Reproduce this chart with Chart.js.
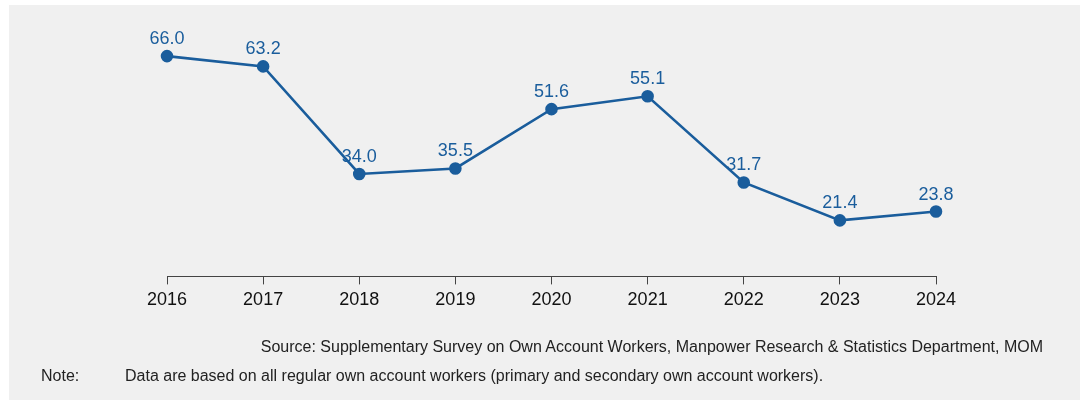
<!DOCTYPE html>
<html>
<head>
<meta charset="utf-8">
<script src="https://cdn.jsdelivr.net/npm/chart.js@4/dist/chart.umd.min.js"></script>
<style>
  body { margin: 0; background: #fff; font-family: "Liberation Sans", Arial, sans-serif; }
  #panel { position: absolute; left: 9px; top: 5px; width: 1071px; height: 395px; background: #f0f0f0; }
  #wrap { position: absolute; left: 0; top: 0; width: 1080px; height: 400px; }
  .src { position: absolute; right: 37px; top: 338px; font-size: 16px; color: #222; }
  .note { position: absolute; top: 367px; font-size: 16px; color: #222; }
</style>
</head>
<body>
<div id="panel"></div>
<div id="wrap"><canvas id="myChart" width="1080" height="400"></canvas></div>
<div class="src">Source: Supplementary Survey on Own Account Workers, Manpower Research &amp; Statistics Department, MOM</div>
<div class="note" style="left:41px">Note:</div>
<div class="note" style="left:125px">Data are based on all regular own account workers (primary and secondary own account workers).</div>
<script>
const years = ['2016', '2017', '2018', '2019', '2020', '2021', '2022', '2023', '2024'];
const values = [66.0, 63.2, 34.0, 35.5, 51.6, 55.1, 31.7, 21.4, 23.8];

const lineBlue = '#1a5d9c';

// value labels above each point
const valueLabels = {
    id: 'valueLabels',
    afterDatasetsDraw(chart){
        const ctx = chart.ctx;
        const meta = chart.getDatasetMeta(0);
        ctx.save();
        ctx.font = '18px "Liberation Sans", Arial, sans-serif';
        ctx.fillStyle = lineBlue;
        ctx.textAlign = 'center';
        ctx.textBaseline = 'alphabetic';
        meta.data.forEach((pt, i) => {
            ctx.fillText(values[i].toFixed(1), pt.x, pt.y - 12);
        });
        ctx.restore();
    }
};

new Chart(document.getElementById('myChart'), {
    type: 'line',
    data: {
        labels: years,
        datasets: [{
            data: values,
            borderColor: lineBlue,
            backgroundColor: lineBlue,
            borderWidth: 2.6,
            pointRadius: 5,
            pointHoverRadius: 5,
            tension: 0
        }]
    },
    options: {
        responsive: false,
        animation: false,
        layout: { padding: { left: 167, right: 144, top: 34, bottom: 84 } },
        plugins: { legend: { display: false }, tooltip: { enabled: false } },
        scales: {
            x: {
                offset: false,
                border: { display: true, color: '#444', width: 1 },
                grid: { drawOnChartArea: false, drawTicks: true, tickLength: 8, color: '#444' },
                ticks: {
                    color: '#111',
                    padding: 5,
                    maxRotation: 0,
                    font: { family: '"Liberation Sans", Arial, sans-serif', size: 18 }
                }
            },
            y: { display: false, min: 6.2, max: 72 }
        }
    },
    plugins: [valueLabels]
});
</script>
</body>
</html>
